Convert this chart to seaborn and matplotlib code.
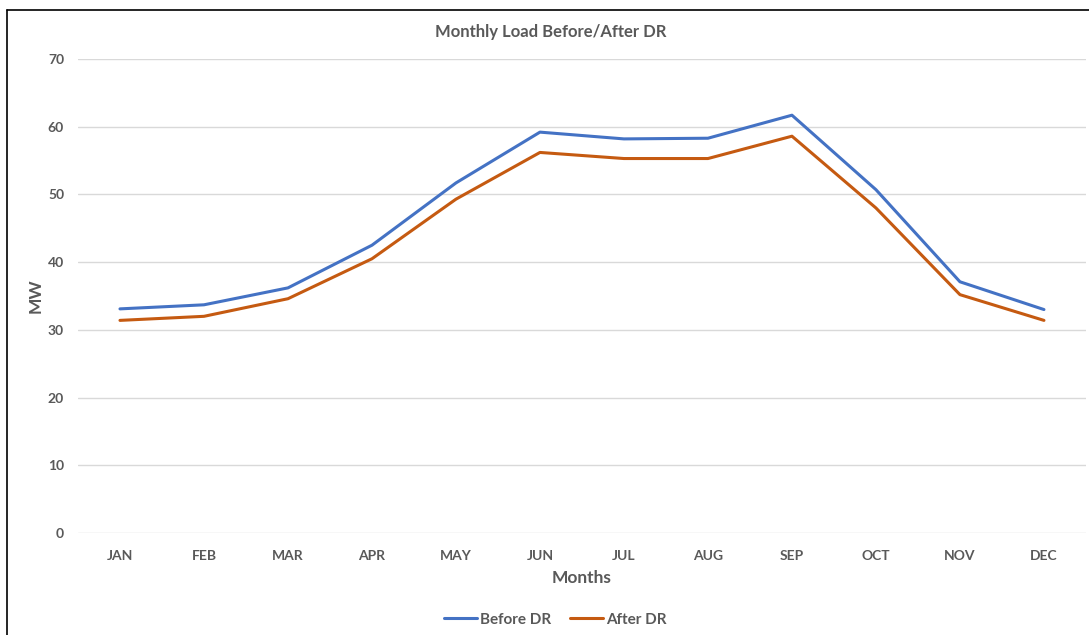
import pandas as pd
import matplotlib.pyplot as plt
import seaborn as sns
from matplotlib.lines import Line2D

# Monthly load values
months = ['JAN', 'FEB', 'MAR', 'APR', 'MAY', 'JUN', 'JUL', 'AUG', 'SEP', 'OCT', 'NOV', 'DEC']
before_dr = [33.1, 33.7, 36.2, 42.5, 51.7, 59.2, 58.2, 58.3, 61.7, 50.7, 37.1, 33.0]
after_dr = [31.4, 32.0, 34.6, 40.5, 49.3, 56.2, 55.3, 55.3, 58.6, 48.0, 35.2, 31.4]
series_names = ['Before DR', 'After DR']

data = pd.DataFrame({
    'Months': months * 2,
    'MW': before_dr + after_dr,
    'Series': [series_names[0]] * 12 + [series_names[1]] * 12,
})

sns.set_style('white')
plt.rcParams['font.family'] = ['Lato', 'DejaVu Sans']
grey = '#595959'

fig = plt.figure(figsize=(10.89, 6.35), dpi=100)
ax = fig.add_axes([0.0716, 0.1606, 0.9256, 0.7465])

sns.lineplot(data=data, x='Months', y='MW', hue='Series', sort=False,
             palette=['#4472C4', '#C55A11'], linewidth=2.2, ax=ax, legend=False)

ax.set_xlim(-0.5, 11.5)
ax.set_ylim(0, 70)
ax.set_yticks(range(0, 71, 10))
ax.grid(axis='y', color='#D9D9D9', linewidth=1)
for s in ax.spines.values():
    s.set_visible(False)
ax.tick_params(axis='both', length=0, colors=grey, labelsize=10)
for lab in ax.get_xticklabels() + ax.get_yticklabels():
    lab.set_fontweight('bold')
ax.tick_params(axis='y', pad=10)
ax.tick_params(axis='x', pad=12)

ax.set_xlabel('Months', fontsize=12.5, fontweight='bold', color=grey, labelpad=6)
ax.set_ylabel('MW', fontsize=12.5, fontweight='bold', color=grey, labelpad=3)
fig.text(0.5058, 0.949, 'Monthly Load Before/After DR', ha='center', va='center',
         fontsize=12, fontweight='bold', color=grey)

handles = [Line2D([], [], color=c, linewidth=2.2) for c in ['#4472C4', '#C55A11']]
leg = fig.legend(handles, series_names, loc='center', bbox_to_anchor=(0.51, 0.024),
                 ncol=2, frameon=False, handlelength=2.2, handletextpad=0.2,
                 columnspacing=1.2, prop={'size': 11, 'weight': 'bold'})
for t in leg.get_texts():
    t.set_color(grey)

# chart border on left and top
fig.add_artist(Line2D([7 / 1089, 7 / 1089], [0, 1 - 10 / 635], color='black', linewidth=1.2,
                      transform=fig.transFigure))
fig.add_artist(Line2D([7 / 1089, 1], [1 - 10 / 635, 1 - 10 / 635], color='black', linewidth=1.2,
                      transform=fig.transFigure))

fig.savefig('out.png', dpi=100)
